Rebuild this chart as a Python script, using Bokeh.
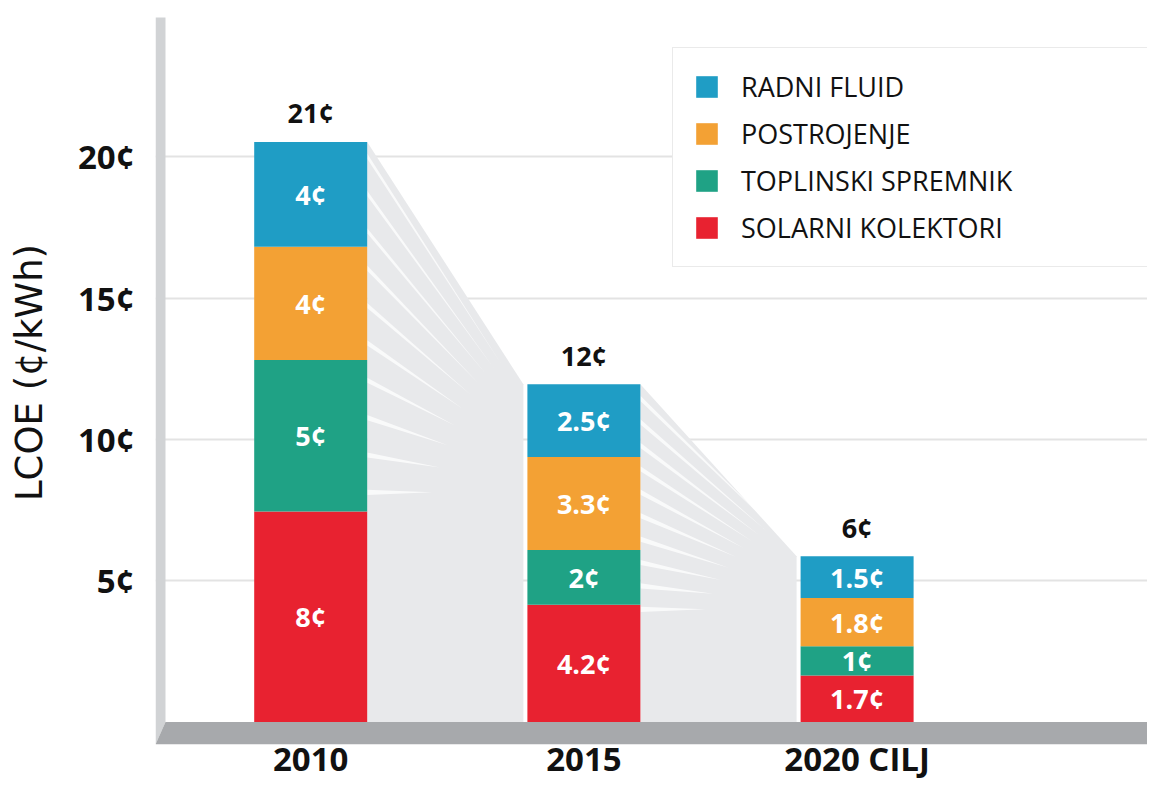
import numpy as np
from bokeh.plotting import figure
from bokeh.models import ColumnDataSource, Legend, LegendItem, FixedTicker, Range1d
from bokeh.core.properties import value
from bokeh.embed import file_html
from bokeh.resources import INLINE

# ---------------- data ----------------
years = ["2010", "2015", "2020 CILJ"]
components = ["SOLARNI KOLEKTORI", "TOPLINSKI SPREMNIK", "POSTROJENJE", "RADNI FLUID"]
solarni = [7.45, 4.15, 1.64]
toplinski = [5.36, 1.94, 1.04]
postrojenje = [4.01, 3.29, 1.71]
radni = [3.71, 2.57, 1.47]
solarni_lbl = ["8¢", "4.2¢", "1.7¢"]
toplinski_lbl = ["5¢", "2¢", "1¢"]
postrojenje_lbl = ["4¢", "3.3¢", "1.8¢"]
radni_lbl = ["4¢", "2.5¢", "1.5¢"]
ukupno_lbl = ["21¢", "12¢", "6¢"]
y_ticks = [5, 10, 15, 20]
y_tick_labels = ["5¢", "10¢", "15¢", "20¢"]
colors = ["#e82230", "#1fa285", "#f3a134", "#1f9dc5"]

# ---------------- layout ----------------
W, H = 1147, 783
ML, MB = 155, 38
PX_X, PX_Y = 273.2, 28.29
ZERO_Y = 722.4          # pixel row of value 0
FRAME_W, FRAME_H = W - ML, H - MB
x_start = -155.2 / PX_X
x_end = x_start + FRAME_W / PX_X
y_end = ZERO_Y / PX_Y
y_start = y_end - FRAME_H / PX_Y
BAR_W = 113 / PX_X
FONT = "Open Sans"

xs = list(range(len(years)))
cols = ["solarni", "toplinski", "postrojenje", "radni"]
series = [solarni, toplinski, postrojenje, radni]
labels = [solarni_lbl, toplinski_lbl, postrojenje_lbl, radni_lbl]
src = ColumnDataSource(dict(x=xs, solarni=solarni, toplinski=toplinski,
                            postrojenje=postrojenje, radni=radni))

p = figure(width=W, height=H, output_backend="svg", toolbar_location=None,
           x_range=Range1d(x_start, x_end), y_range=Range1d(y_start, y_end),
           min_border_left=ML, min_border_bottom=MB, min_border_top=0, min_border_right=0)
p.outline_line_color = None
p.background_fill_color = "white"
p.border_fill_color = "white"

# grid
p.xgrid.grid_line_color = None
p.ygrid.ticker = FixedTicker(ticks=y_ticks)
p.ygrid.grid_line_color = "#e3e3e3"
p.ygrid.grid_line_width = 2

# shadows with rays between consecutive bars
tops = np.sum(np.array(series), axis=0)
ray_xs, ray_ys = [], []
for i in range(len(years) - 1):
    xa = xs[i] + BAR_W / 2
    xb = xs[i + 1] - BAR_W / 2 - 4 / PX_X
    ta, tb = tops[i], tops[i + 1]
    p.patch([xa, xb, xb, xa], [ta, tb, 0, 0], fill_color="#e8e9eb", line_color=None)
    cx, cy = xs[i + 1], 0.68 * tb
    n = 10
    half = 2.6 / PX_Y
    for k in range(n):
        yk = ta - 0.5 - (ta - 0.5 - cy) * k / (n - 1)
        frac = 0.62 - 0.32 * k / (n - 1)
        tipx = xa + (cx - xa) * frac
        tipy = yk + (cy - yk) * frac
        ray_xs.append([xa, xa, tipx])
        ray_ys.append([yk + half, yk - half, tipy])
p.patches(ray_xs, ray_ys, fill_color="white", fill_alpha=0.75, line_color=None)

# wall and floor
wx0 = x_start
wx1 = x_start + 10 / PX_X
wall_top = (ZERO_Y - 17) / PX_Y
floor_bot = -(745 - ZERO_Y) / PX_Y
p.patch([wx0, wx1, wx1, wx0], [wall_top, wall_top, 0, floor_bot],
        fill_color="#d1d3d5", line_color=None)
p.patch([wx1, x_end + 1, x_end + 1, wx0], [0, 0, floor_bot, floor_bot],
        fill_color="#a7a9ac", line_color=None)

# stacked bars
rends = p.vbar_stack(cols, x="x", width=BAR_W, color=colors, source=src, line_color=None)

# segment labels
cum = np.zeros(len(years))
for s, lbl in zip(series, labels):
    s = np.array(s)
    mid = cum + s / 2
    p.text(x=xs, y=list(mid), text=lbl, text_align="center", text_baseline="middle",
           text_color="white", text_font=value(FONT), text_font_style="bold",
           text_font_size="27px")
    cum = cum + s

# totals
p.text(x=xs, y=list(tops), text=ukupno_lbl, text_align="center", text_baseline="middle",
       y_offset=-29, text_color="#111111", text_font=value(FONT), text_font_style="bold",
       text_font_size="27px")

# axes
for ax in (p.xaxis, p.yaxis):
    ax.axis_line_color = None
    ax.major_tick_line_color = None
    ax.minor_tick_line_color = None
    ax.major_tick_out = 0
    ax.major_tick_in = 0
    ax.minor_tick_out = 0
    ax.minor_tick_in = 0

p.xaxis.ticker = FixedTicker(ticks=xs)
p.xaxis.major_label_overrides = {i: y for i, y in enumerate(years)}
p.xaxis.major_label_standoff = -9
p.xaxis.major_label_text_font = FONT
p.xaxis.major_label_text_font_style = "bold"
p.xaxis.major_label_text_font_size = "33px"
p.xaxis.major_label_text_color = "#111111"

p.yaxis.ticker = FixedTicker(ticks=y_ticks)
p.yaxis.major_label_overrides = {t: l for t, l in zip(y_ticks, y_tick_labels)}
p.yaxis.major_label_standoff = 21
p.yaxis.major_label_text_font = FONT
p.yaxis.major_label_text_font_style = "bold"
p.yaxis.major_label_text_font_size = "33px"
p.yaxis.major_label_text_color = "#111111"
p.yaxis.axis_label = "LCOE (¢/kWh)"
p.yaxis.axis_label_text_font = "DejaVu Sans"
p.yaxis.axis_label_text_font_style = "normal"
p.yaxis.axis_label_text_font_size = "37px"
p.yaxis.axis_label_text_color = "#111111"
p.yaxis.axis_label_standoff = 24

# legend
items = [LegendItem(label=components[k], renderers=[rends[k]]) for k in [3, 2, 1, 0]]
legend = Legend(items=items, location=(672 - ML, (H - MB) - 268),
                glyph_width=27, glyph_height=27, label_standoff=21, spacing=10,
                padding=20, margin=0, label_width=460,
                label_text_font=FONT, label_text_font_size="27px", label_text_color="#111111",
                border_line_color="#d6d6d6", border_line_width=1.5,
                background_fill_color="white", background_fill_alpha=1.0)
p.add_layout(legend)

open("out.html", "w").write(file_html(p, INLINE))
